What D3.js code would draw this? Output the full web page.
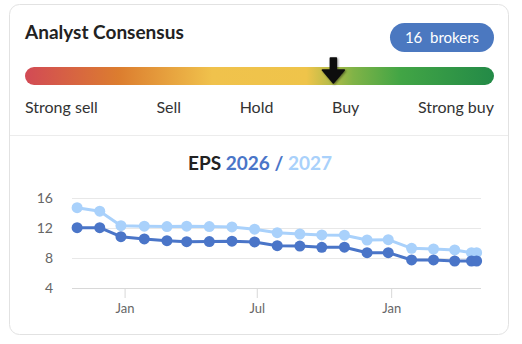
<!DOCTYPE html>
<html>
<head>
<meta charset="utf-8">
<script src="https://cdn.jsdelivr.net/npm/d3@7"></script>
<style>
  html, body { margin: 0; padding: 0; background: #ffffff; }
  svg { display: block; font-family: Lato, "Open Sans", sans-serif; }
</style>
</head>
<body>
<svg id="chart" width="522" height="344"></svg>
<script>
// ---- data ----
const ratingLabels = ["Strong sell", "Sell", "Hold", "Buy", "Strong buy"];
const consensusScore = 3.63;           // on 1 (strong sell) .. 5 (strong buy)
const brokerCount = 16;
const seriesNames = ["2026", "2027"];
const dates = ["2024-10-28","2024-11-28","2024-12-27","2025-01-28","2025-02-28","2025-03-27",
               "2025-04-27","2025-05-28","2025-06-28","2025-07-29","2025-08-29","2025-09-28",
               "2025-10-29","2025-11-29","2025-12-28","2026-01-29","2026-02-28","2026-03-29",
               "2026-04-21","2026-04-28"];
const eps2026 = [12.0, 12.0, 10.8, 10.5, 10.27, 10.13, 10.15, 10.2, 10.1, 9.6, 9.55, 9.38,
                 9.4, 8.67, 8.67, 7.7, 7.7, 7.56, 7.56, 7.56];
const eps2027 = [14.67, 14.2, 12.27, 12.2, 12.15, 12.2, 12.15, 12.1, 11.8, 11.33, 11.16, 11.03,
                 11.0, 10.36, 10.4, 9.25, 9.16, 9.03, 8.67, 8.67];
const yTicks = [4, 8, 12, 16];
const xDomain = ["2024-10-21", "2026-05-04"];

// ---- drawing ----
const svg = d3.select("#chart");
const parse = d3.utcParse("%Y-%m-%d");
const colDark = "#4a75c8";
const colLight = "#a9d1fb";

// card
svg.append("rect").attr("x", 9.5).attr("y", 4.5).attr("width", 499).attr("height", 330)
  .attr("rx", 10).attr("fill", "#fff").attr("stroke", "#e2e2e2");
svg.append("line").attr("x1", 10).attr("x2", 508).attr("y1", 135.5).attr("y2", 135.5)
  .attr("stroke", "#ececec");

// header
svg.append("text").attr("x", 25).attr("y", 39).attr("font-size", 19).attr("font-weight", 700)
  .attr("fill", "#222").text("Analyst Consensus");

const pill = svg.append("g");
pill.append("rect").attr("x", 390).attr("y", 23).attr("width", 104).attr("height", 29)
  .attr("rx", 14.5).attr("fill", "#4b78c0");
pill.append("text").attr("x", 442).attr("y", 43).attr("text-anchor", "middle")
  .attr("font-size", 15).attr("fill", "#fff").attr("xml:space", "preserve")
  .text(brokerCount + "  brokers");

// gradient bar
const barX0 = 25, barX1 = 494, barY = 67, barH = 18;
const defs = svg.append("defs");
const grad = defs.append("linearGradient").attr("id", "cons").attr("x1", "0%").attr("x2", "100%");
[[0, "#d24a55"], [0.2, "#dc7d2f"], [0.4, "#f0c24c"], [0.6, "#efc44a"], [0.7, "#80b347"],
 [0.8, "#42a545"], [1, "#238a47"]].forEach(([o, c]) =>
  grad.append("stop").attr("offset", o).attr("stop-color", c));
svg.append("rect").attr("x", barX0).attr("y", barY).attr("width", barX1 - barX0).attr("height", barH)
  .attr("rx", 9).attr("fill", "url(#cons)");

const scoreScale = d3.scaleLinear().domain([1, 5]).range([barX0, barX1]);
const ax = scoreScale(consensusScore);
const filt = defs.append("filter").attr("id", "sh").attr("x", "-50%").attr("y", "-50%")
  .attr("width", "200%").attr("height", "200%");
filt.append("feDropShadow").attr("dx", 1).attr("dy", 1).attr("stdDeviation", 1.2)
  .attr("flood-color", "#000").attr("flood-opacity", 0.45);
svg.append("path")
  .attr("d", `M${ax-3},58 L${ax+3},58 L${ax+3},70 L${ax+11},70 L${ax},83 L${ax-11},70 L${ax-3},70 Z`)
  .attr("fill", "#111").attr("stroke", "#111").attr("stroke-width", 1.5)
  .attr("stroke-linejoin", "round").attr("filter", "url(#sh)");

// rating labels (space-between)
const lblG = svg.append("g");
const lbls = lblG.selectAll("text").data(ratingLabels).join("text")
  .attr("y", 113).attr("font-size", 16).attr("fill", "#333").text(d => d);
const widths = [];
lbls.each(function() { widths.push(this.getComputedTextLength()); });
const totalW = d3.sum(widths);
const gap = ((barX1 - barX0) - totalW) / (ratingLabels.length - 1);
let cx = barX0;
lbls.attr("x", (d, i) => { const x = cx; cx += widths[i] + gap; return x; });

// EPS title
const title = svg.append("text").attr("x", 260).attr("y", 170).attr("text-anchor", "middle")
  .attr("font-size", 19).attr("font-weight", 700).attr("xml:space", "preserve");
title.append("tspan").attr("fill", "#222").text("EPS ");
title.append("tspan").attr("fill", colDark).text(seriesNames[0] + " / ");
title.append("tspan").attr("fill", colLight).text(seriesNames[1]);

// chart
const x = d3.scaleUtc().domain(xDomain.map(parse)).range([72, 481]);
const y = d3.scaleLinear().domain([4, 16]).range([287.7, 197.7]);

const grid = svg.append("g");
grid.selectAll("line").data(yTicks).join("line")
  .attr("x1", 72).attr("x2", 481)
  .attr("y1", d => Math.round(y(d)) + 0.5).attr("y2", d => Math.round(y(d)) + 0.5)
  .attr("stroke", d => d === 4 ? "#d8d8d8" : "#e8e8e8");

const yAxis = d3.axisLeft(y).tickValues(yTicks).tickSize(0).tickPadding(0);
const yg = svg.append("g").attr("transform", "translate(53,0)").call(yAxis);
yg.select(".domain").remove();
yg.selectAll("text").attr("font-size", 14).attr("fill", "#666")
  .attr("font-family", "Lato, sans-serif").attr("dy", "0.35em");

const xAxis = d3.axisBottom(x).ticks(d3.utcMonth.every(6)).tickFormat(d3.utcFormat("%b"))
  .tickSize(10).tickPadding(6);
const xg = svg.append("g").attr("transform", "translate(0,288)").call(xAxis);
xg.select(".domain").remove();
xg.selectAll("line").attr("stroke", "#d8d8d8");
xg.selectAll("text").attr("font-size", 13).attr("fill", "#666")
  .attr("font-family", "Lato, sans-serif");

const pts = (vals) => vals.map((v, i) => ({ d: parse(dates[i]), v }));
const line = d3.line().x(p => x(p.d)).y(p => y(p.v));
[[eps2027, colLight], [eps2026, colDark]].forEach(([vals, col]) => {
  const data = pts(vals);
  svg.append("path").datum(data).attr("d", line).attr("fill", "none")
    .attr("stroke", col).attr("stroke-width", 3).attr("stroke-linejoin", "round");
  svg.append("g").selectAll("circle").data(data).join("circle")
    .attr("cx", p => x(p.d)).attr("cy", p => y(p.v)).attr("r", 5.5).attr("fill", col);
});
</script>
</body>
</html>
